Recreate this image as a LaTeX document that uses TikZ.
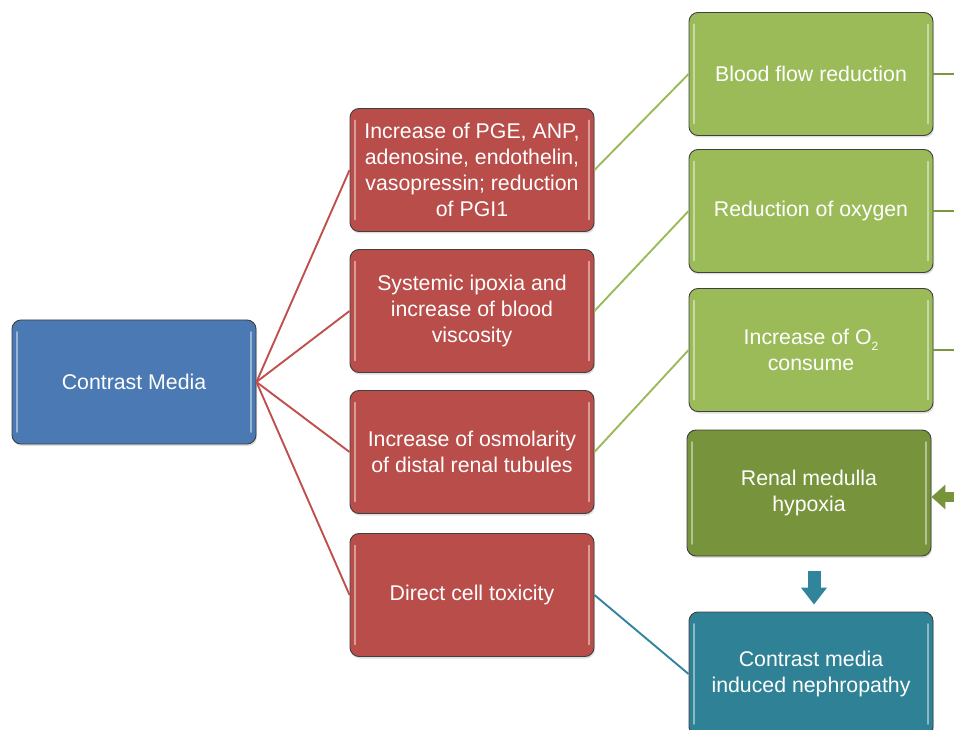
\documentclass[tikz,border=0pt]{standalone}
\usepackage{fontspec}
\setmainfont{Liberation Sans}
\usetikzlibrary{arrows.meta,shadows}
\definecolor{cblue}{HTML}{4A79B3}
\definecolor{cred}{HTML}{B94D4A}
\definecolor{cgreen}{HTML}{9BBB59}
\definecolor{cdgreen}{HTML}{77933C}
\definecolor{cteal}{HTML}{2F8196}
\definecolor{lred}{HTML}{C0504D}
\definecolor{lteal}{HTML}{31849B}
\tikzset{
  box/.style={draw=black!75, line width=0.9pt, rounded corners=9pt,
    minimum width=244pt, minimum height=124pt, inner sep=0pt,
    text=white, align=center,
    font=\fontsize{21.3pt}{26pt}\selectfont,
    drop shadow={shadow xshift=1pt, shadow yshift=-2pt, opacity=0.25},
    path picture={
      \draw[white, opacity=0.45, line width=1.6pt, line cap=round]
        ([xshift=5pt,yshift=-12pt]path picture bounding box.north west) --
        ([xshift=5pt,yshift=12pt]path picture bounding box.south west);
      \draw[white, opacity=0.45, line width=1.6pt, line cap=round]
        ([xshift=-5pt,yshift=-12pt]path picture bounding box.north east) --
        ([xshift=-5pt,yshift=12pt]path picture bounding box.south east);
    }},
  conn/.style={line width=1.9pt},
}
\begin{document}
\begin{tikzpicture}[x=1pt,y=-1pt]
\useasboundingbox (0,0) rectangle (954,730);
\clip (0,0) rectangle (954,730);
\node[box, fill=cblue] (cm) at (134,382) {Contrast Media};
\node[box, fill=cred, minimum height=123pt] (r1) at (472,170) {Increase of PGE, ANP,\\adenosine, endothelin,\\vasopressin; reduction\\of PGI1};
\node[box, fill=cred, minimum height=123pt] (r2) at (472,311) {Systemic ipoxia and\\increase of blood\\viscosity};
\node[box, fill=cred, minimum height=123pt] (r3) at (472,452) {Increase of osmolarity\\of distal renal tubules};
\node[box, fill=cred, minimum height=123pt] (r4) at (472,595) {Direct cell toxicity};
\node[box, fill=cgreen, minimum height=123pt] (g1) at (811,74) {Blood flow reduction};
\node[box, fill=cgreen, minimum height=123pt] (g2) at (811,211) {Reduction of oxygen};
\node[box, fill=cgreen, minimum height=123pt] (g3) at (811,350) {Increase of O\raisebox{-6pt}{\fontsize{12pt}{12pt}\selectfont 2}\\consume};
\node[box, fill=cdgreen, minimum height=126pt] (dg) at (809,493) {Renal medulla\\hypoxia};
\node[box, fill=cteal] (tl) at (811,674) {Contrast media\\induced nephropathy};
\foreach \r in {r1,r2,r3,r4}
  \draw[conn, lred] (cm.east) -- (\r.west);
\draw[conn, cgreen] (r1.east) -- (g1.west);
\draw[conn, cgreen] (r2.east) -- (g2.west);
\draw[conn, cgreen] (r3.east) -- (g3.west);
\draw[conn, lteal] (r4.east) -- (tl.west);
\coordinate (e1) at (954,74);
\coordinate (e2) at (954,211);
\coordinate (e3) at (954,350);
\coordinate (e4) at (954,497);
\draw[line width=2.4pt, cdgreen!90!cgreen] (g1.east) -- (e1);
\draw[line width=2.4pt, cdgreen!90!cgreen] (g2.east) -- (e2);
\draw[line width=2.4pt, cdgreen!90!cgreen] (g3.east) -- (e3);
\draw[line width=10pt, cdgreen, -{Triangle[width=24pt,length=14pt]}] (e4) -- ([yshift=-4pt]dg.east);
\draw[line width=13pt, lteal, -{Triangle[width=25pt,length=17pt]}] ([xshift=5pt,yshift=-15pt]dg.south) -- ([xshift=3pt,yshift=7pt]tl.north);
\end{tikzpicture}
\end{document}
